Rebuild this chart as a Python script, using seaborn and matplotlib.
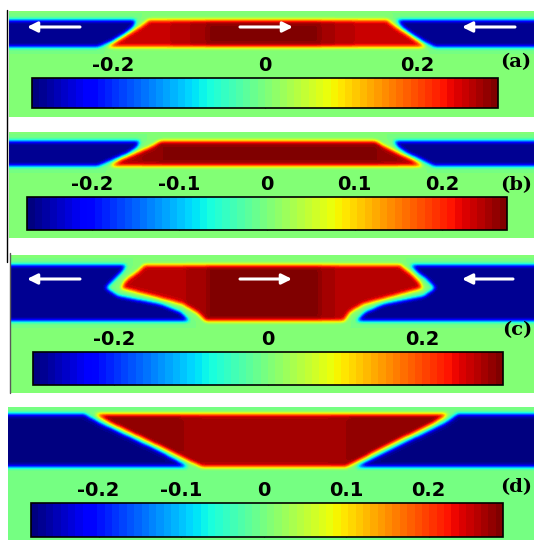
import numpy as np
import matplotlib
matplotlib.use("Agg")
import matplotlib as mpl
import matplotlib.pyplot as plt
import seaborn as sns
from matplotlib.path import Path

# ---- data (x, y in picture pixels) ----
labels = ["(a)", "(b)", "(c)", "(d)"]

# channel edge profiles: x of each boundary at the listed y levels
a_y = [20, 27, 34, 41, 47]
a_blue_left = [136, 133, 124, 112, 98]
a_red_left = [149, 140, 128, 117, 107]
a_red_right = [387, 396, 407, 417, 426]
a_blue_right = [397, 402, 412, 423, 435]

b_y = [141, 147, 153, 159, 166]
b_blue_left = [140, 137, 128, 114, 98]
b_red_left = [161, 150, 136, 122, 110]
b_red_right = [375, 386, 398, 411, 423]
b_blue_right = [394, 398, 407, 420, 434]

c_y = [265, 272, 280, 288, 296, 304, 312, 321]
c_blue_left = [126, 122, 113, 106, 118, 160, 180, 190]
c_red_left = [145, 137, 126, 121, 152, 182, 196, 205]
c_red_right = [400, 409, 418, 423, 394, 364, 350, 344]
c_blue_right = [410, 417, 428, 435, 424, 384, 366, 356]

d_y = [414, 423, 432, 441, 450, 459, 467]
d_blue_left = [84, 100, 119, 138, 157, 174, 188]
d_red_left = [95, 110, 129, 148, 167, 185, 202]
d_red_right = [448, 434, 416, 397, 379, 362, 346]
d_blue_right = [458, 445, 427, 408, 390, 372, 356]

# levels inside the regions (vertical bands)
a_red_edges = [170, 190, 207, 320, 335, 355]
a_red_levels = [0.262, 0.272, 0.284, 0.297, 0.284, 0.272, 0.262]
b_red_edges = [140, 160, 380, 400]
b_red_levels = [0.25, 0.258, 0.266, 0.258, 0.25]
c_red_edges = [185, 207, 320, 335]
c_red_levels = [0.268, 0.28, 0.297, 0.283, 0.27]
d_red_edges = [180, 200, 330, 350]
d_red_levels = [0.277, 0.272, 0.265, 0.272, 0.277]
blue_levels = [-0.294, -0.263, -0.293, -0.274]

# colour scales
limits = [(-0.306, 0.306), (-0.274, 0.274), (-0.305, 0.305), (-0.282, 0.29)]
ticks_ac = [-0.2, 0, 0.2]
ticks_bd = [-0.2, -0.1, 0, 0.1, 0.2]
ticklabels_ac = ["-0.2", "0", "0.2"]
ticklabels_bd = ["-0.2", "-0.1", "0", "0.1", "0.2"]

profiles = [
    (a_y, a_blue_left, a_red_left, a_red_right, a_blue_right, a_red_edges, a_red_levels),
    (b_y, b_blue_left, b_red_left, b_red_right, b_blue_right, b_red_edges, b_red_levels),
    (c_y, c_blue_left, c_red_left, c_red_right, c_blue_right, c_red_edges, c_red_levels),
    (d_y, d_blue_left, d_red_left, d_red_right, d_blue_right, d_red_edges, d_red_levels),
]
ticks = [ticks_ac, ticks_bd, ticks_ac, ticks_bd]
ticklabels = [ticklabels_ac, ticklabels_bd, ticklabels_ac, ticklabels_bd]

# ---- layout (picture pixels) ----
W, H = 534, 540
panel_boxes = [(9, 11, 534, 117), (9, 132, 534, 238), (10, 255, 534, 393), (8, 407, 534, 540)]
cbar_boxes = [(32, 78, 498, 108), (27, 197, 507, 230), (33, 352, 503, 385), (31, 503, 503, 537)]
label_pos = [(516, 62), (516, 185), (517, 330), (516, 487)]


def fig_rect(x0, y0, x1, y1):
    return [x0 / W, 1 - y1 / H, (x1 - x0) / W, (y1 - y0) / H]


def blur(F, s=2.0):
    r = int(3 * s) + 1
    k = np.exp(-0.5 * (np.arange(-r, r + 1) / s) ** 2)
    k /= k.sum()
    P = np.pad(F, ((0, 0), (r, r)), mode="edge")
    F = np.apply_along_axis(lambda v: np.convolve(v, k, "valid"), 1, P)
    P = np.pad(F, ((r, r), (0, 0)), mode="edge")
    return np.apply_along_axis(lambda v: np.convolve(v, k, "valid"), 0, P)


def build_field(box, prof, blue):
    x0, y0, x1, y1 = box
    ys, bl, rl, rr, br, edges, levels = prof
    X, Y = np.meshgrid(np.arange(x0, x1) + 0.5, np.arange(y0, y1) + 0.5)
    pts = np.column_stack([X.ravel(), Y.ravel()])
    left = Path([(x0 - 5, ys[0])] + list(zip(bl, ys)) + [(x0 - 5, ys[-1])])
    right = Path(list(zip(br, ys)) + [(x1 + 5, ys[-1]), (x1 + 5, ys[0])])
    red = Path(list(zip(rl, ys)) + list(zip(rr[::-1], ys[::-1])))
    F = np.zeros(X.shape)
    m_blue = (left.contains_points(pts) | right.contains_points(pts)).reshape(X.shape)
    m_red = red.contains_points(pts).reshape(X.shape)
    F[m_blue] = blue
    red_vals = np.array(levels)[np.searchsorted(edges, X)]
    F[m_red] = red_vals[m_red]
    return blur(F)


sns.set_style("white")
plt.rcParams["axes.unicode_minus"] = False

cmap = mpl.colormaps["jet"].resampled(64)
fig = plt.figure(figsize=(W / 100, H / 100), dpi=100)

for i in range(4):
    F = build_field(panel_boxes[i], profiles[i], blue_levels[i])
    ax = fig.add_axes(fig_rect(*panel_boxes[i]))
    sns.heatmap(F, ax=ax, cmap=cmap, vmin=limits[i][0], vmax=limits[i][1],
                cbar=False, xticklabels=False, yticklabels=False)
    cax = fig.add_axes(fig_rect(*cbar_boxes[i]))
    cb = fig.colorbar(ax.collections[0], cax=cax, orientation="horizontal")
    cb.set_ticks(ticks[i], labels=ticklabels[i], fontsize=14,
                 fontweight="bold", fontfamily="DejaVu Sans")
    cb.outline.set_linewidth(1.2)
    cb.outline.set_edgecolor("black")
    cax.xaxis.set_ticks_position("both")
    cax.tick_params(axis="x", direction="in", length=4, width=0.9, color="0.2",
                    labelcolor="black", labeltop=True, labelbottom=False, pad=2)

# overlay: flow arrows, panel labels, frame lines
ov = fig.add_axes([0, 0, 1, 1])
ov.set_xlim(0, W)
ov.set_ylim(H, 0)
ov.set_axis_off()

arrows = [((80, 27), (27, 27)), ((240, 27), (293, 27)), ((515, 27), (462, 27)),
          ((80, 279), (27, 279)), ((240, 279), (292, 279)), ((513, 279), (462, 279))]
for tail, head in arrows:
    ov.annotate("", xy=head, xytext=tail,
                arrowprops=dict(arrowstyle="-|>", color="white", lw=2.2,
                                mutation_scale=15, shrinkA=0, shrinkB=0))

for lab, (x, y) in zip(labels, label_pos):
    ov.text(x, y, lab, ha="center", va="center", fontsize=14, fontweight="bold",
            fontfamily="DejaVu Serif", color="black")

ov.plot([7, 7], [10, 262], color="black", lw=1)
ov.plot([9.5, 9.5], [253, 393], color="0.35", lw=1)

fig.savefig("out.png", dpi=100)
